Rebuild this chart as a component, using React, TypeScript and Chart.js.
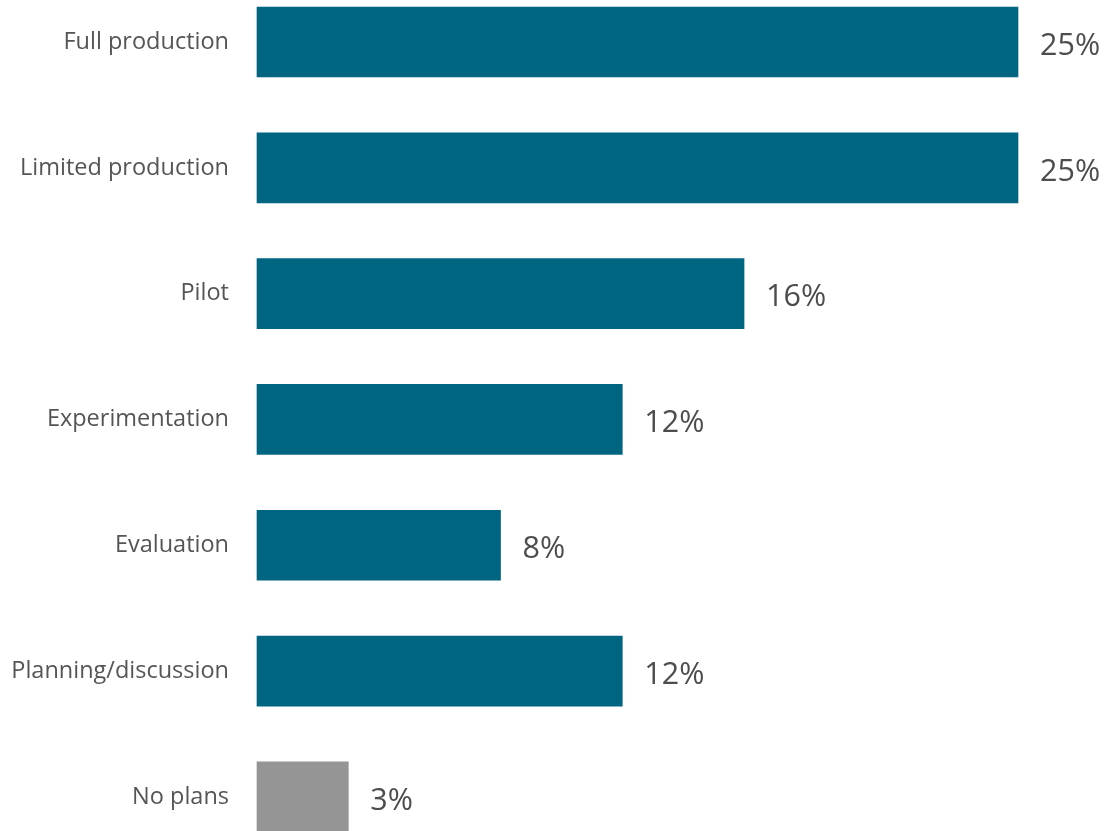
import React, { useEffect, useRef } from "react";
import { Chart, registerables } from "chart.js";

Chart.register(...registerables);

const categories = [
  "Full production",
  "Limited production",
  "Pilot",
  "Experimentation",
  "Evaluation",
  "Planning/discussion",
  "No plans",
];
const values = [25, 25, 16, 12, 8, 12, 3];
const barColors = ["#006580", "#006580", "#006580", "#006580", "#006580", "#006580", "#959595"];

const valueLabels = {
  id: "valueLabels",
  afterDatasetsDraw(chart: any) {
    const ctx = chart.ctx;
    const meta = chart.getDatasetMeta(0);
    ctx.save();
    ctx.font = '30.5px "Open Sans"';
    ctx.fillStyle = "#4d4d4d";
    ctx.textAlign = "left";
    ctx.textBaseline = "middle";
    meta.data.forEach((bar: any, i: number) => {
      ctx.fillText(values[i] + "%", bar.x + 22, bar.y + 4);
    });
    ctx.restore();
  },
};

export default function App() {
  const ref = useRef<HTMLCanvasElement>(null);
  useEffect(() => {
    const chart = new Chart(ref.current!, {
      type: "bar",
      data: {
        labels: categories,
        datasets: [
          {
            data: values,
            backgroundColor: barColors,
            barThickness: 70,
            clip: false as any,
          },
        ],
      },
      options: {
        indexAxis: "y",
        animation: false,
        responsive: false,
        maintainAspectRatio: false,
        layout: { padding: { top: 42, bottom: 17, right: 88, left: 0 } },
        plugins: { legend: { display: false }, tooltip: { enabled: false } },
        scales: {
          x: { display: false, min: 0, max: 25 },
          y: {
            offset: false,
            grid: { display: false },
            border: { display: false },
            ticks: {
              padding: 20,
              color: "#555555",
              font: { family: "Open Sans", size: 23.5 },
            },
            afterFit(scale: any) {
              scale.width = 257;
            },
          },
        },
      },
      plugins: [valueLabels],
    });
    return () => chart.destroy();
  }, []);
  return (
    <div style={{ position: "fixed", left: 0, top: 0, width: 1106, height: 831, background: "#fff" }}>
      <canvas ref={ref} width={1106} height={831} style={{ display: "block" }} />
    </div>
  );
}
